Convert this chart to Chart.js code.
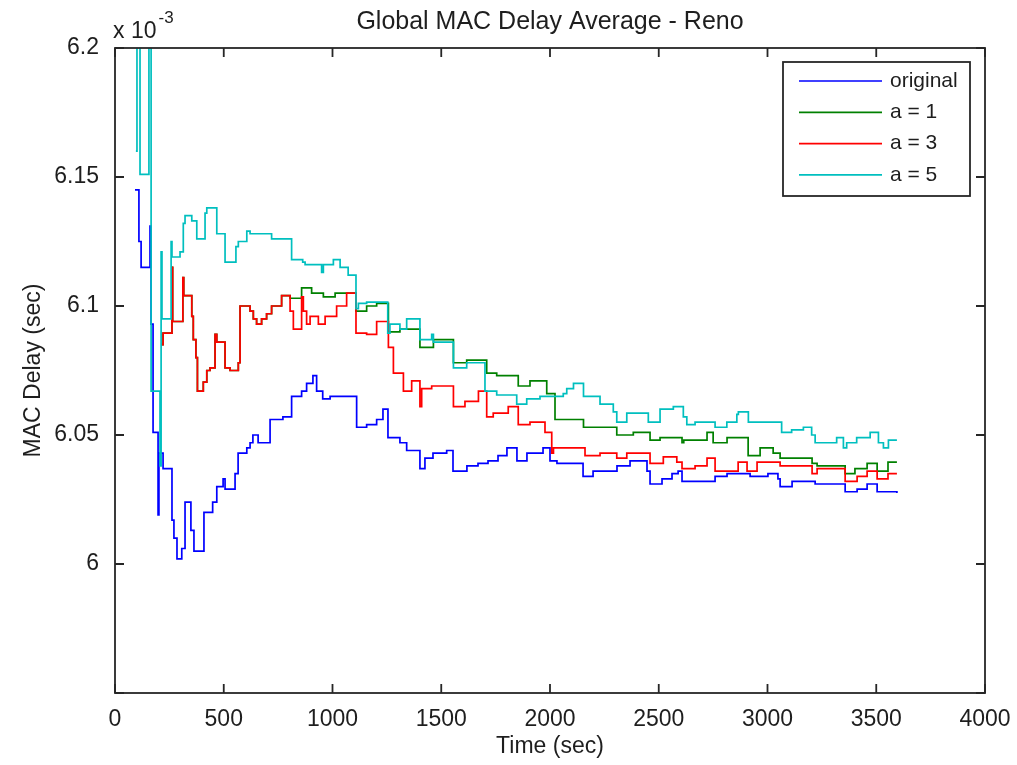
<!DOCTYPE html>
<html>
<head>
<meta charset="utf-8">
<title>Global MAC Delay Average - Reno</title>
<script src="https://cdn.jsdelivr.net/npm/chart.js@4.4.1/dist/chart.umd.min.js"></script>
<style>
  html, body { margin: 0; padding: 0; background: #fff; }
  #wrap { width: 1017px; height: 765px; position: relative; }
</style>
</head>
<body>
<div id="wrap"><canvas id="macChart"></canvas></div>
<script>
// [time (sec), delay (x 10^-3 sec)] - each pair is where the stair steps to a new value
const original = [
  [92, 6.145], [110, 6.125], [120, 6.115], [161, 6.131], [166, 6.093], [175, 6.051], [198, 6.019],
  [202, 6.043], [221, 6.037], [262, 6.017], [271, 6.010], [285, 6.002], [307, 6.006], [322, 6.024],
  [349, 6.013], [363, 6.005], [409, 6.020], [449, 6.024], [468, 6.030], [497, 6.033], [506, 6.029],
  [552, 6.035], [566, 6.043], [606, 6.045], [621, 6.047], [634, 6.050], [658, 6.047], [713, 6.056],
  [772, 6.057], [812, 6.065], [858, 6.067], [881, 6.070], [910, 6.073], [927, 6.067], [955, 6.064],
  [989, 6.065], [1111, 6.053], [1157, 6.054], [1203, 6.056], [1232, 6.060], [1255, 6.049],
  [1310, 6.047], [1341, 6.044], [1402, 6.037], [1425, 6.041], [1462, 6.043], [1525, 6.044],
  [1554, 6.036], [1618, 6.038], [1669, 6.039], [1715, 6.040], [1761, 6.042], [1802, 6.045],
  [1848, 6.040], [1894, 6.043], [1968, 6.045], [2000, 6.040], [2032, 6.039], [2152, 6.034],
  [2198, 6.036], [2308, 6.038], [2368, 6.040], [2446, 6.036], [2460, 6.031], [2515, 6.033],
  [2561, 6.035], [2589, 6.036], [2607, 6.032], [2759, 6.034], [2814, 6.035], [2920, 6.034],
  [3002, 6.035], [3048, 6.033], [3058, 6.030], [3113, 6.032], [3219, 6.031], [3357, 6.028],
  [3412, 6.029], [3458, 6.031], [3504, 6.028], [3595, 6.0275]
];

const aOne = [
  [212, 6.085], [221, 6.0895], [262, 6.115], [265, 6.094], [312, 6.111], [316, 6.104], [353, 6.096],
  [360, 6.087], [372, 6.080], [379, 6.067], [406, 6.0705], [422, 6.075], [437, 6.076], [460, 6.089],
  [468, 6.086], [506, 6.076], [529, 6.075], [567, 6.078], [575, 6.100], [621, 6.098], [636, 6.095],
  [651, 6.093], [674, 6.095], [697, 6.097], [720, 6.100], [766, 6.104], [805, 6.103], [858, 6.107],
  [904, 6.105], [958, 6.1035], [1012, 6.105], [1108, 6.098], [1157, 6.100], [1203, 6.101],
  [1257, 6.090], [1310, 6.091], [1402, 6.084], [1464, 6.087], [1556, 6.078], [1617, 6.079],
  [1709, 6.074], [1755, 6.073], [1854, 6.069], [1908, 6.071], [1985, 6.066], [2023, 6.056],
  [2154, 6.053], [2307, 6.050], [2383, 6.051], [2460, 6.048], [2506, 6.049], [2607, 6.047],
  [2615, 6.048], [2722, 6.051], [2750, 6.047], [2814, 6.049], [2911, 6.042], [2966, 6.045],
  [3026, 6.043], [3058, 6.041], [3205, 6.039], [3228, 6.038], [3357, 6.035], [3402, 6.037],
  [3458, 6.039], [3504, 6.036], [3554, 6.0395], [3595, 6.0395]
];

const aThree = [
  [212, 6.085], [221, 6.0895], [262, 6.115], [265, 6.094], [312, 6.111], [316, 6.104], [353, 6.096],
  [360, 6.087], [372, 6.080], [379, 6.067], [406, 6.0705], [422, 6.075], [437, 6.076], [460, 6.089],
  [468, 6.086], [506, 6.076], [529, 6.075], [567, 6.078], [575, 6.100], [621, 6.098], [636, 6.095],
  [651, 6.093], [674, 6.095], [697, 6.097], [720, 6.100], [766, 6.104], [805, 6.098], [820, 6.091],
  [858, 6.1035], [866, 6.098], [881, 6.093], [897, 6.096], [935, 6.093], [966, 6.096], [1019, 6.100],
  [1065, 6.105], [1108, 6.0895], [1157, 6.089], [1203, 6.094], [1257, 6.084], [1280, 6.074],
  [1326, 6.067], [1364, 6.071], [1402, 6.061], [1410, 6.068], [1456, 6.069], [1556, 6.061],
  [1609, 6.063], [1671, 6.067], [1709, 6.057], [1739, 6.0585], [1808, 6.061], [1854, 6.054],
  [1908, 6.055], [1977, 6.051], [2008, 6.043], [2016, 6.045], [2161, 6.042], [2230, 6.043],
  [2307, 6.041], [2353, 6.043], [2460, 6.039], [2521, 6.0415], [2583, 6.0395], [2607, 6.037],
  [2667, 6.038], [2722, 6.041], [2759, 6.036], [2865, 6.0395], [2906, 6.036], [2952, 6.0395],
  [3058, 6.038], [3205, 6.035], [3228, 6.037], [3357, 6.032], [3412, 6.034], [3458, 6.036],
  [3504, 6.033], [3554, 6.035], [3595, 6.035]
];

const aFive = [
  [96, 6.16], [101, 6.21], [115, 6.151], [156, 6.22], [166, 6.067], [207, 6.038], [212, 6.121],
  [216, 6.095], [258, 6.125], [262, 6.119], [299, 6.121], [314, 6.132], [322, 6.135], [353, 6.133],
  [376, 6.126], [414, 6.136], [422, 6.138], [468, 6.128], [506, 6.117], [556, 6.123], [567, 6.125],
  [606, 6.129], [621, 6.128], [659, 6.128], [720, 6.126], [774, 6.126], [812, 6.118], [863, 6.117],
  [874, 6.116], [950, 6.113], [958, 6.116], [1004, 6.118], [1035, 6.115], [1072, 6.112],
  [1108, 6.099], [1119, 6.101], [1157, 6.1015], [1254, 6.0895], [1264, 6.093], [1310, 6.091],
  [1341, 6.095], [1402, 6.087], [1456, 6.089], [1464, 6.086], [1556, 6.076], [1617, 6.078],
  [1701, 6.067], [1755, 6.0655], [1847, 6.062], [1893, 6.064], [1954, 6.065], [2061, 6.066],
  [2077, 6.068], [2108, 6.070], [2154, 6.065], [2230, 6.062], [2291, 6.059], [2307, 6.055],
  [2353, 6.0585], [2452, 6.055], [2506, 6.060], [2567, 6.061], [2613, 6.057], [2629, 6.054],
  [2667, 6.055], [2759, 6.053], [2813, 6.055], [2859, 6.058], [2866, 6.059], [2912, 6.055],
  [3065, 6.051], [3111, 6.052], [3165, 6.053], [3203, 6.050], [3219, 6.047], [3303, 6.047],
  [3318, 6.049], [3349, 6.045], [3364, 6.047], [3410, 6.049], [3472, 6.051], [3510, 6.047],
  [3533, 6.045], [3556, 6.048], [3595, 6.048]
];

const seriesNames = ['original', 'a = 1', 'a = 3', 'a = 5'];
const seriesColors = ['#0000ff', '#008000', '#ff0000', '#00bfbf'];
const xTicks = [0, 500, 1000, 1500, 2000, 2500, 3000, 3500, 4000];
const yTicks = [5.95, 6, 6.05, 6.1, 6.15, 6.2];
const yTickLabels = ['', '6', '6.05', '6.1', '6.15', '6.2'];

const FONT = 'Liberation Sans, Arial, Helvetica, sans-serif';
const TEXT = '#1e1e1e';
Chart.defaults.font.family = FONT;
Chart.defaults.color = TEXT;

// MATLAB look: boxed axes, inward ticks, legend inside the box, title and exponent
const matlabAxes = {
  id: 'matlabAxes',
  afterDatasetsDraw(chart) {
    const { ctx, chartArea: a, scales: { x, y } } = chart;
    ctx.save();
    ctx.strokeStyle = '#262626';
    ctx.lineWidth = 1.8;
    ctx.strokeRect(a.left, a.top, a.right - a.left, a.bottom - a.top);
    ctx.beginPath();
    xTicks.forEach(v => {
      const px = x.getPixelForValue(v);
      ctx.moveTo(px, a.bottom); ctx.lineTo(px, a.bottom - 9);
      ctx.moveTo(px, a.top); ctx.lineTo(px, a.top + 9);
    });
    yTicks.forEach(v => {
      const py = y.getPixelForValue(v);
      ctx.moveTo(a.left, py); ctx.lineTo(a.left + 9, py);
      ctx.moveTo(a.right, py); ctx.lineTo(a.right - 9, py);
    });
    ctx.stroke();

    // legend box
    const lx = 783, ly = 62, lw = 187, lh = 134;
    ctx.fillStyle = '#fff';
    ctx.fillRect(lx, ly, lw, lh);
    ctx.strokeStyle = '#262626';
    ctx.lineWidth = 1.8;
    ctx.strokeRect(lx, ly, lw, lh);
    ctx.font = '21px ' + FONT;
    ctx.textBaseline = 'middle';
    ctx.textAlign = 'left';
    chart.data.datasets.forEach((ds, i) => {
      const rowY = ly + 19 + i * 31.3;
      ctx.strokeStyle = ds.borderColor;
      ctx.lineWidth = 1.7;
      ctx.beginPath();
      ctx.moveTo(lx + 16, rowY);
      ctx.lineTo(lx + 99, rowY);
      ctx.stroke();
      ctx.fillStyle = TEXT;
      ctx.fillText(ds.label, lx + 107, rowY);
    });
    ctx.restore();
  },
  afterDraw(chart) {
    const { ctx, chartArea: a } = chart;
    ctx.save();
    ctx.fillStyle = TEXT;
    ctx.textBaseline = 'alphabetic';
    ctx.textAlign = 'center';
    ctx.font = '25px ' + FONT;
    ctx.fillText('Global MAC Delay Average - Reno', (a.left + a.right) / 2, 29);
    ctx.textAlign = 'left';
    ctx.font = '23px ' + FONT;
    ctx.fillText('x 10', 113, 38);
    const w = ctx.measureText('x 10').width;
    ctx.font = '17px ' + FONT;
    ctx.fillText('-3', 113 + w + 2, 23);
    ctx.restore();
  }
};

function toPoints(series) {
  return series.map(p => ({ x: p[0], y: p[1] }));
}

const ctx = document.getElementById('macChart').getContext('2d');
new Chart(ctx, {
  type: 'line',
  data: {
    // later series are drawn on top, as in the original plot
    datasets: [original, aOne, aThree, aFive].map((s, i) => ({
      label: seriesNames[i],
      data: toPoints(s),
      borderColor: seriesColors[i],
      backgroundColor: seriesColors[i],
      borderWidth: 1.7,
      pointRadius: 0,
      stepped: true,
      fill: false,
      order: 3 - i
    }))
  },
  options: {
    responsive: true,
    maintainAspectRatio: false,
    animation: false,
    layout: { padding: { top: 48, right: 32, left: 0, bottom: 0 } },
    plugins: {
      legend: { display: false },
      tooltip: { enabled: false }
    },
    scales: {
      x: {
        type: 'linear',
        min: 0,
        max: 4000,
        grid: { display: false },
        border: { display: false },
        afterBuildTicks: s => { s.ticks = xTicks.map(v => ({ value: v })); },
        afterFit: s => { s.height = 72; },
        ticks: { font: { size: 23 }, padding: 5, maxRotation: 0, callback: v => String(v) },
        title: { display: true, text: 'Time (sec)', font: { size: 23 }, padding: { top: 0, bottom: 5 } }
      },
      y: {
        type: 'linear',
        min: 5.95,
        max: 6.2,
        grid: { display: false },
        border: { display: false },
        afterBuildTicks: s => { s.ticks = yTicks.map(v => ({ value: v })); },
        afterFit: s => { s.width = 115; },
        ticks: { font: { size: 23 }, padding: 8, callback: (v, i) => yTickLabels[i] },
        title: { display: true, text: 'MAC Delay (sec)', font: { size: 23 }, padding: { top: 20, bottom: 0 } }
      }
    }
  },
  plugins: [matlabAxes]
});
</script>
</body>
</html>
